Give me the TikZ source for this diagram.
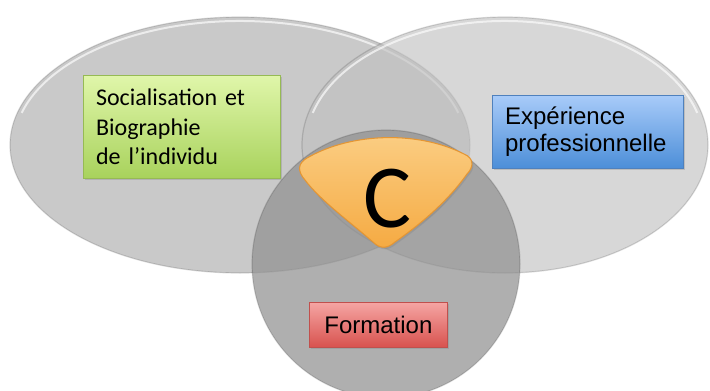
\documentclass[tikz,border=0pt]{standalone}
\usepackage{fontspec}
\newfontfamily\carlito{Carlito}
\newfontfamily\arialsans{Liberation Sans}
\usetikzlibrary{shadows}

\definecolor{leftgray}{RGB}{201,201,201}
\definecolor{rightgray}{RGB}{193,193,193}
\definecolor{lowgray}{RGB}{145,145,145}
\definecolor{greentop}{RGB}{224,246,170}
\definecolor{greenbot}{RGB}{168,210,92}
\definecolor{greenedge}{RGB}{150,186,84}
\definecolor{bluetop}{RGB}{168,203,249}
\definecolor{bluebot}{RGB}{76,142,216}
\definecolor{blueedge}{RGB}{79,129,189}
\definecolor{redtop}{RGB}{245,165,163}
\definecolor{redbot}{RGB}{216,82,78}
\definecolor{rededge}{RGB}{192,80,77}
\definecolor{ctop}{RGB}{251,206,132}
\definecolor{cbot}{RGB}{245,170,66}
\definecolor{cedge}{RGB}{228,150,52}

\tikzset{every picture/.style={line width=0.75pt}}
\tikzset{
  venn/.style={draw=black, draw opacity=0.14, line width=0.9pt},
  rim/.style={draw=white, draw opacity=0.65, line width=1.5pt},
  box/.style={rectangle, draw, line width=0.6pt, anchor=north west, inner xsep=9.5pt, inner ysep=0pt,
    drop shadow={shadow xshift=1.2pt, shadow yshift=-1.2pt, opacity=0.3}},
  greenbox/.style={box, draw=greenedge, top color=greentop, bottom color=greenbot,
    minimum width=147.75pt, minimum height=77.25pt, text width=128.75pt, align=left,
    font=\carlito\fontsize{18}{22}\selectfont},
  bluebox/.style={box, draw=blueedge, top color=bluetop, bottom color=bluebot,
    minimum width=143.25pt, minimum height=54.75pt, text width=124.25pt, align=left,
    font=\arialsans\fontsize{18}{20.25}\selectfont},
  redbox/.style={box, draw=rededge, top color=redtop, bottom color=redbot,
    minimum width=103.5pt, minimum height=33.75pt, align=center,
    font=\arialsans\fontsize{18}{20.25}\selectfont},
  cshape/.style={draw=cedge, line width=0.8pt, top color=ctop, bottom color=cbot,
    drop shadow={shadow xshift=1pt, shadow yshift=-1.5pt, opacity=0.3}}
}

\begin{document}
\begin{tikzpicture}[x=0.75pt,y=0.75pt,yscale=-1,xscale=1]
\useasboundingbox (0,0) rectangle (710,390);

%Shape: Ellipse (left)
\fill [leftgray] (240,145) ellipse [x radius=230, y radius=128];
\draw [venn] (240,145) ellipse [x radius=230, y radius=128];
\draw [rim] (240,145) ++(195:226 and 124) arc [start angle=195, end angle=345, x radius=226, y radius=124];
%Shape: Ellipse (right)
\fill [rightgray, fill opacity=0.65] (505,145) ellipse [x radius=203, y radius=128];
\draw [venn] (505,145) ellipse [x radius=203, y radius=128];
\draw [rim] (505,145) ++(195:199 and 124) arc [start angle=195, end angle=345, x radius=199, y radius=124];
%Shape: Circle (bottom)
\fill [lowgray, fill opacity=0.73] (386,264) circle [radius=134];
\draw [venn] (386,264) circle [radius=134];

%Shape: Rounded Triangle
\path [cshape] (307,158) .. controls (352,132) and (419,131) .. (464,154)
  .. controls (474,158) and (474,167) .. (467,174)
  .. controls (445,205) and (415,228) .. (395,242)
  .. controls (387,249) and (380,249) .. (373,242)
  .. controls (350,222) and (320,200) .. (305,180)
  .. controls (297,171) and (298,163) .. (307,158) -- cycle;

% Text Node
\node [font=\carlito\fontsize{67.5}{70}\selectfont, inner sep=0pt] (c) at (387,199) {C};
% Text Node
\node [greenbox] (soc) at (83,75) {Socialisation et\\Biographie\\de l’individu};
% Text Node
\node [bluebox] (exp) at (492,95) {Expérience\\professionnelle};
% Text Node
\node [redbox] (form) at (309,302) {Formation};

\end{tikzpicture}
\end{document}
